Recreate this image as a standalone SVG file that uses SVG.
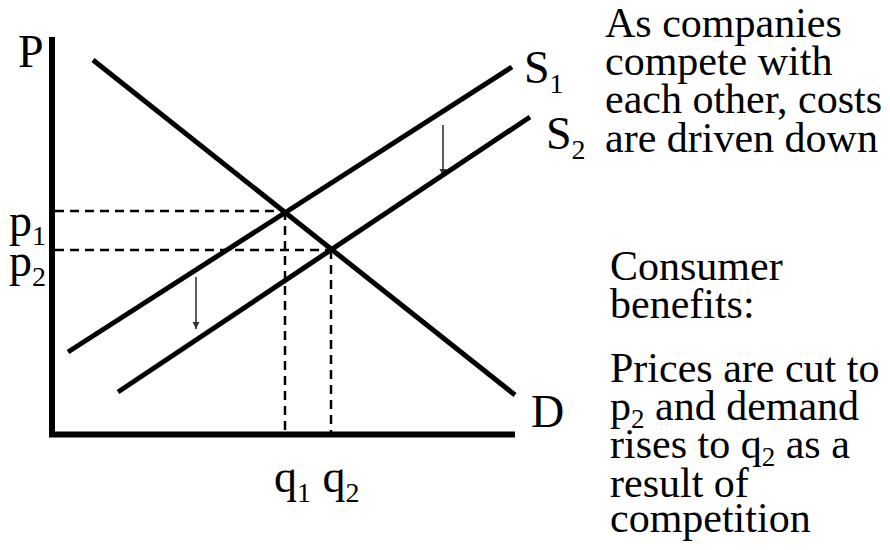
<svg xmlns="http://www.w3.org/2000/svg" width="890" height="550" viewBox="0 0 890 550">
<defs>
<style>
text{font-family:'Liberation Serif','Times New Roman',Times,'DejaVu Serif',serif;fill:#000}
.lbl{font-size:46px}
.sub{font-size:28px}
.body{font-size:42px}
.bsub{font-size:27px}
.curve{stroke:#000;stroke-width:5;fill:none}
.axis{stroke:#000;stroke-width:6;fill:none}
.dash{stroke:#000;stroke-width:2.5;stroke-dasharray:9 6;fill:none}
.arr{stroke:#333;stroke-width:1.6;fill:none;marker-end:url(#ah)}
</style>
<marker id="ah" viewBox="0 0 10 10" refX="10" refY="5" markerWidth="4.5" markerHeight="4.5" markerUnits="strokeWidth" orient="auto">
<path d="M0,0 L10,5 L0,10 Z" fill="#333"/>
</marker>
</defs>
<rect width="890" height="550" fill="#fff"/>
<g id="axes">
<path class="axis" d="M52,37 L52,437 M49,434.5 L515,434.5"/>
</g>
<g id="connectors">
<path class="dash" d="M55,211 L285,211 M55,250 L331,250 M285,211 L285,432 M331,250 L331,432"/>
<path class="arr" d="M443,125 L443,176"/>
<path class="arr" d="M196,277 L196,329"/>
</g>
<g id="demand">
<path class="curve" d="M93,60 L515,395"/>
<text class="lbl" x="531" y="427" font-family="Liberation Serif, serif">D</text>
</g>
<g id="supply1">
<path class="curve" d="M68,352 L512,67"/>
<text class="lbl" x="524" y="83" font-family="Liberation Serif, serif">S<tspan class="sub" dy="10">1</tspan></text>
</g>
<g id="supply2">
<path class="curve" d="M118,392 L530,117"/>
<text class="lbl" x="546" y="149" font-family="Liberation Serif, serif">S<tspan class="sub" dy="10">2</tspan></text>
</g>
<g id="labels" font-family="Liberation Serif, serif">
<text class="lbl" x="18" y="67">P</text>
<text class="lbl" x="9" y="236">p<tspan class="sub" dy="9">1</tspan></text>
<text class="lbl" x="9" y="276">p<tspan class="sub" dy="10">2</tspan></text>
<text class="lbl" x="274" y="492">q<tspan class="sub" dy="10">1</tspan><tspan dy="-10"> q</tspan><tspan class="sub" dy="10">2</tspan></text>
</g>
<g id="text-costs" font-family="Liberation Serif, serif">
<text class="body" x="605" y="37">As companies</text>
<text class="body" x="605" y="75">compete with</text>
<text class="body" x="605" y="113">each other, costs</text>
<text class="body" x="605" y="152">are driven down</text>
</g>
<g id="text-benefits" font-family="Liberation Serif, serif">
<text class="body" x="610" y="280">Consumer</text>
<text class="body" x="610" y="318">benefits:</text>
<text class="body" x="610" y="382">Prices are cut to</text>
<text class="body" x="610" y="420">p<tspan class="bsub" dy="8">2</tspan><tspan dy="-8"> and demand</tspan></text>
<text class="body" x="610" y="458">rises to q<tspan class="bsub" dy="8">2</tspan><tspan dy="-8"> as a</tspan></text>
<text class="body" x="610" y="497">result of</text>
<text class="body" x="610" y="532">competition</text>
</g>
</svg>
